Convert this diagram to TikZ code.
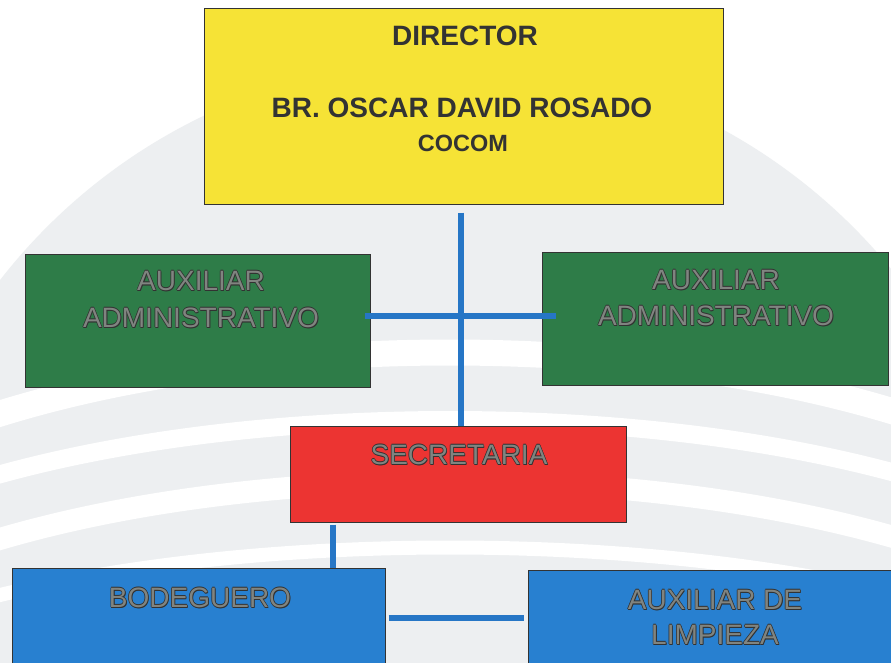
\documentclass[tikz,border=0pt]{standalone}
\usepackage{fontspec}
\setmainfont{Liberation Sans}
\usetikzlibrary{calc}
\definecolor{dirY}{RGB}{246,227,54}
\definecolor{admG}{RGB}{46,124,72}
\definecolor{secR}{RGB}{236,52,50}
\definecolor{bluB}{RGB}{40,128,208}
\definecolor{connB}{RGB}{38,118,198}
\definecolor{wmark}{RGB}{237,239,241}
\definecolor{embfill}{RGB}{128,132,128}
\definecolor{embedge}{RGB}{50,50,50}
\tikzset{
  box/.style={draw=black!80, line width=1pt, inner sep=0pt, rectangle},
  conn/.style={draw=connB, line width=6pt},
  dirtext/.style={text=black!80, font=\bfseries\fontsize{28}{30}\selectfont, inner sep=0pt},
  embsh/.style={text=embedge, font=\fontsize{28}{30}\selectfont, inner sep=0pt},
  embfg/.style={text=embfill, font=\fontsize{28}{30}\selectfont, inner sep=0pt},
}
\newcommand{\embt}[3]{%
  \coordinate (#1c) at (#2);
  \foreach \dx/\dy in {-0.7/0,0.7/0,0/-0.7,0/0.7,0.8/-0.8}
    \node[embsh] at ([shift={(\dx pt,\dy pt)}]#1c) {#3};
  \node[embfg] (#1) at (#1c) {#3};}
\begin{document}
\begin{tikzpicture}[x=1pt,y=-1pt]
\useasboundingbox (0,0) rectangle (891,662);
\clip (0,0) rectangle (891,662);
\fill[white] (0,0) rectangle (891,662);
% watermark
\fill[wmark] (450,630) circle (570);
\draw[white, line width=26pt] (-20,420) .. controls (250,330) and (650,330) .. (920,420);
\draw[white, line width=18pt] (-20,480) .. controls (250,400) and (650,400) .. (920,480);
\draw[white, line width=22pt] (-20,545) .. controls (250,460) and (650,460) .. (920,545);
\draw[white, line width=14pt] (-20,600) .. controls (250,530) and (650,530) .. (920,600);
% boxes
\node[box, fill=dirY, minimum width=519pt, minimum height=196pt] (dir) at (463.5,106) {};
\node[box, fill=admG, minimum width=345pt, minimum height=133pt] (adl) at (197.5,320.5) {};
\node[box, fill=admG, minimum width=346pt, minimum height=133pt] (adr) at (715,318.5) {};
\node[box, fill=secR, minimum width=336pt, minimum height=96pt] (sec) at (458,474) {};
\node[box, fill=bluB, minimum width=373pt, minimum height=140pt] (bod) at (198.5,638) {};
\node[box, fill=bluB, minimum width=370pt, minimum height=140pt] (lim) at (713,640) {};
% connectors
\path ([xshift=-2.5pt,yshift=-8pt]dir.south) coordinate (v1);
\draw[conn] (v1) -- (v1 |- sec.north);
\path ([xshift=-6pt,yshift=4.5pt]adl.east) coordinate (h1);
\coordinate (h2) at (h1 -| adr.west);
\draw[conn] (h1) -- ([xshift=14pt]h2);
\path ([xshift=-125pt,yshift=-2pt]sec.south) coordinate (s1);
\draw[conn] (s1) -- (s1 |- bod.north);
\path ([xshift=3pt,yshift=20pt]bod.east) coordinate (b1);
\coordinate (b2) at (b1 -| lim.west);
\draw[conn] (b1) -- ([xshift=-4pt]b2);
% texts
\node[dirtext] (t1) at (465,36) {DIRECTOR};
\node[dirtext] (t2) at (462,108) {BR. OSCAR DAVID ROSADO};
\node[dirtext, font=\bfseries\fontsize{23.5}{26}\selectfont] (t3) at (463,143) {COCOM};
\embt{t4}{201,281}{AUXILIAR}
\embt{t5}{201,318}{ADMINISTRATIVO}
\embt{t6}{716,280}{AUXILIAR}
\embt{t7}{716,316}{ADMINISTRATIVO}
\embt{t8}{459,455}{SECRETARIA}
\embt{t9}{200,598}{BODEGUERO}
\embt{t10}{715,600}{AUXILIAR DE}
\embt{t11}{715,635}{LIMPIEZA}
\end{tikzpicture}
\end{document}
